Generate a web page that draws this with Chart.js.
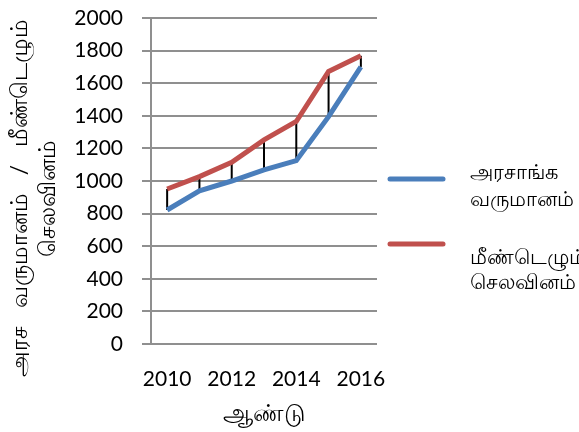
<!DOCTYPE html>
<html>
<head>
<meta charset="utf-8">
<script src="https://cdn.jsdelivr.net/npm/chart.js@4/dist/chart.umd.min.js"></script>
<style>
  html, body { margin: 0; padding: 0; background: #fff; }
  #wrap { width: 579px; height: 432px; }
</style>
</head>
<body>
<div id="wrap"><canvas id="chart"></canvas></div>
<script>
// தரவு
const years = ['2010', '2011', '2012', '2013', '2014', '2015', '2016'];
const revenue = [822, 940, 1000, 1068, 1125, 1395, 1700];
const expenditure = [951, 1027, 1115, 1252, 1365, 1672, 1768];
const seriesNames = [['அரசாங்க', 'வருமானம்'], ['மீண்டெழும்', 'செலவினம்']];
const yTitle = ['அரச   வருமானம்   /   மீண்டெழும்', 'செலவினம்'];
const xTitle = 'ஆண்டு';

const font = "Lato, 'Noto Sans', sans-serif";

// உயர்-தாழ் கோடுகள், Y தலைப்பு, வலது பக்க விளக்கம்
const extras = {
    id: 'extras',
    beforeDatasetsDraw(chart) {
        const ctx = chart.ctx;
        const x = chart.scales.x, y = chart.scales.y;
        ctx.save();
        ctx.strokeStyle = '#000';
        ctx.lineWidth = 2;
        years.forEach((yr, i) => {
            const px = x.getPixelForValue(i);
            ctx.beginPath();
            ctx.moveTo(px, y.getPixelForValue(expenditure[i]));
            ctx.lineTo(px, y.getPixelForValue(revenue[i]));
            ctx.stroke();
        });
        ctx.restore();
    },
    afterDraw(chart) {
        const ctx = chart.ctx;
        ctx.save();

        // y axis title (two lines, rotated)
        ctx.fillStyle = '#000';
        ctx.font = '23px ' + font;
        ctx.textAlign = 'center';
        ctx.textBaseline = 'middle';
        [20, 48].forEach((cx, k) => {
            ctx.save();
            ctx.translate(cx, 198);
            ctx.rotate(-Math.PI / 2);
            ctx.fillText(yTitle[k], 0, 0);
            ctx.restore();
        });

        // legend
        const rows = [179, 244];
        const textRows = [[172, 199], [257, 282]];
        ctx.textAlign = 'left';
        chart.data.datasets.forEach((ds, i) => {
            const ly = rows[i];
            ctx.strokeStyle = ds.borderColor;
            ctx.lineWidth = 5;
            ctx.lineCap = 'round';
            ctx.beginPath();
            ctx.moveTo(390, ly);
            ctx.lineTo(443, ly);
            ctx.stroke();
            ctx.font = '21px ' + font;
            seriesNames[i].forEach((t, k) => {
                ctx.fillText(t, 470, textRows[i][k]);
            });
        });
        ctx.restore();
    }
};

new Chart(document.getElementById('chart'), {
    type: 'line',
    data: {
        labels: years,
        datasets: [{
            label: seriesNames[0].join(' '),
            data: revenue,
            borderColor: '#4a7ebb',
            borderWidth: 5,
            pointRadius: 0,
            tension: 0,
            fill: false
        }, {
            label: seriesNames[1].join(' '),
            data: expenditure,
            borderColor: '#c0504d',
            borderWidth: 5,
            pointRadius: 0,
            tension: 0,
            fill: false
        }]
    },
    options: {
        responsive: true,
        maintainAspectRatio: false,
        animation: false,
        layout: { padding: { top: 0, right: 202, left: 0, bottom: 0 } },
        plugins: {
            legend: { display: false },
            tooltip: { enabled: false }
        },
        scales: {
            x: {
                offset: true,
                grid: { display: false, drawTicks: false },
                border: { display: false },
                ticks: {
                    autoSkip: false,
                    maxRotation: 0,
                    color: '#000',
                    padding: 23,
                    font: { family: font, size: 21 },
                    callback: (v, i) => (i % 2 === 0 ? years[i] : '')
                },
                title: {
                    display: true,
                    text: xTitle,
                    color: '#000',
                    font: { family: font, size: 24 },
                    padding: { top: 0 }
                },
                afterFit: (s) => { s.height = 88; }
            },
            y: {
                min: 0,
                max: 2000,
                ticks: {
                    stepSize: 200,
                    color: '#000',
                    padding: 19,
                    font: { family: font, size: 21 },
                    callback: (v) => String(v)
                },
                grid: {
                    color: '#8f8f8f',
                    lineWidth: 2,
                    tickLength: 9
                },
                border: { color: '#8f8f8f', width: 2 },
                afterFit: (s) => {
                    s.width = 151;
                    s.paddingTop = 18;
                }
            }
        }
    },
    plugins: [extras]
});
</script>
</body>
</html>
